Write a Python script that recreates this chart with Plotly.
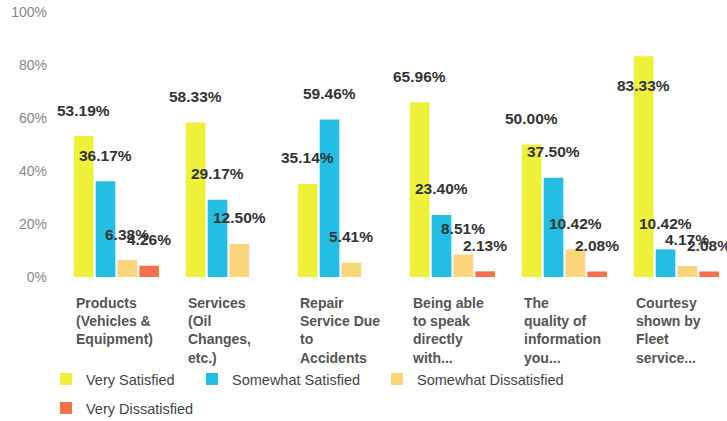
import plotly.graph_objects as go

categories = [
    "Products<br>(Vehicles &<br>Equipment)",
    "Services<br>(Oil<br>Changes,<br>etc.)",
    "Repair<br>Service Due<br>to<br>Accidents",
    "Being able<br>to speak<br>directly<br>with...",
    "The<br>quality of<br>information<br>you...",
    "Courtesy<br>shown by<br>Fleet<br>service...",
]
series_names = ["Very Satisfied", "Somewhat Satisfied", "Somewhat Dissatisfied", "Very Dissatisfied"]
very_satisfied = [53.19, 58.33, 35.14, 65.96, 50.00, 83.33]
somewhat_satisfied = [36.17, 29.17, 59.46, 23.40, 37.50, 10.42]
somewhat_dissatisfied = [6.38, 12.50, 5.41, 8.51, 10.42, 4.17]
very_dissatisfied = [4.26, None, None, 2.13, 2.08, 2.08]
y_ticks = [0, 20, 40, 60, 80, 100]
y_tick_labels = ["0%", "20%", "40%", "60%", "80%", "100%"]

colors = ["#EEF03A", "#22BFE3", "#F8D47A", "#F2704A"]
all_series = [very_satisfied, somewhat_satisfied, somewhat_dissatisfied, very_dissatisfied]

W, H = 727, 421
ML, MR, MT, MB = 60, 5, 12, 144
plot_w = W - ML - MR
cat_px = 112.0
x0 = -0.504
x1 = x0 + plot_w / cat_px
bargap = 0.22
bargroupgap = 0.1
slot = cat_px * (1 - bargap) / len(all_series)
FONT = "Liberation Sans, Arial, sans-serif"

fig = go.Figure()
idx = list(range(len(categories)))
legend_ids = ["legend", "legend2", "legend3", "legend4"]
for j, (name, vals, col) in enumerate(zip(series_names, all_series, colors)):
    fig.add_trace(go.Bar(
        x=idx, y=vals, name=name, marker=dict(color=col, line=dict(width=0)),
        legend=legend_ids[j], hoverinfo="skip",
    ))

annotations = []
for j, vals in enumerate(all_series):
    off = (j - (len(all_series) - 1) / 2) * slot
    for i, v in enumerate(vals):
        if v is None:
            continue
        annotations.append(dict(
            x=i, y=v, xref="x", yref="y", text=f"{v:.2f}%", showarrow=False,
            xshift=off, yshift=(26 if v < 80 else -29), yanchor="middle", xanchor="center",
            font=dict(family=FONT, size=15.5, color="#333333", weight="bold"),
        ))
group_half = cat_px * (1 - bargap) / 2
for i, c in enumerate(categories):
    annotations.append(dict(
        x=i, y=0, xref="x", yref="paper", text=c, showarrow=False,
        xshift=-group_half + 1, yshift=-16, xanchor="left", yanchor="top", align="left",
        font=dict(family=FONT, size=14, color="#555555", weight="bold"),
    ))

legend_pos = [(46, 379), (192, 379), (377, 379), (46, 408)]
leg_layout = {}
for lid, (lx, ly) in zip(legend_ids, legend_pos):
    leg_layout[lid] = dict(
        x=lx / W, y=1 - ly / H, xref="container", yref="container",
        xanchor="left", yanchor="middle", orientation="h",
        font=dict(family=FONT, size=14.5, color="#444444"),
        bgcolor="rgba(0,0,0,0)", borderwidth=0,
    )

fig.update_layout(
    width=W, height=H,
    margin=dict(l=ML, r=MR, t=MT, b=MB, pad=0),
    paper_bgcolor="white", plot_bgcolor="white",
    barmode="group", bargap=bargap, bargroupgap=bargroupgap,
    showlegend=True,
    xaxis=dict(type="linear", range=[x0, x1], showticklabels=False, showgrid=False,
               zeroline=False, showline=False, ticks=""),
    yaxis=dict(range=[0, 100], tickvals=y_ticks, ticktext=y_tick_labels, showgrid=False,
               zeroline=False, showline=False, ticks="", ticklabelstandoff=12,
               tickfont=dict(family=FONT, size=14, color="#888888")),
    annotations=annotations,
    **leg_layout,
)

fig.write_html(
    "out.html",
    config={"displayModeBar": False, "staticPlot": True},
    post_script="document.body.style.margin='0';document.body.style.overflow='hidden';",
)
